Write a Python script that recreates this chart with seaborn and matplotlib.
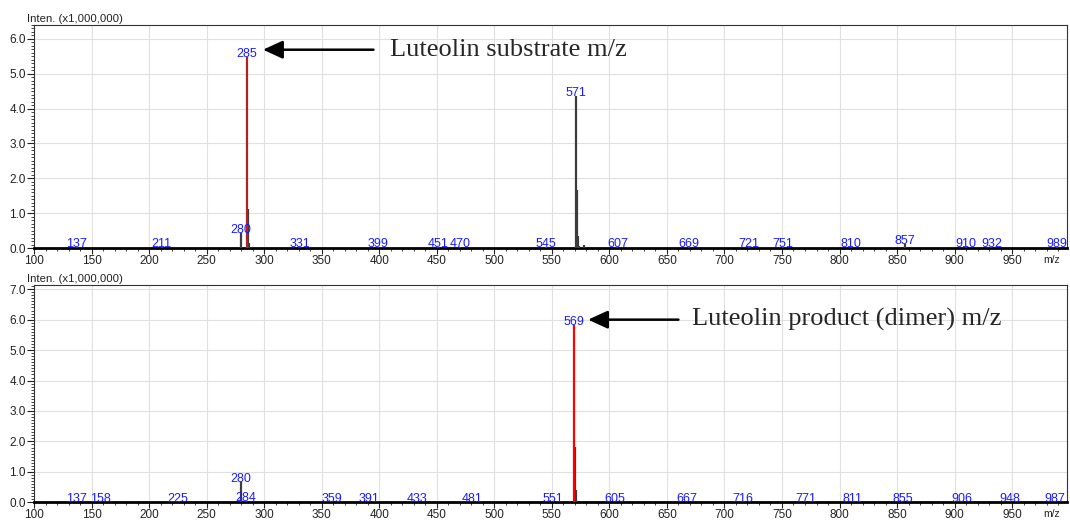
import matplotlib
matplotlib.use("Agg")
import matplotlib.pyplot as plt
from matplotlib.ticker import MultipleLocator, FormatStrFormatter
import seaborn as sns
import pandas as pd

sns.set_style("white")
plt.rcParams['font.family'] = ['Liberation Sans', 'DejaVu Sans']

# ---- top spectrum (substrate) ----
top_mz = [137, 211, 280, 285, 286, 287, 331, 399, 451, 470, 545, 571, 572, 573, 574, 578,
          607, 669, 721, 751, 810, 857, 910, 932, 989]
top_int = [0.02, 0.02, 0.43, 5.48, 1.13, 0.15, 0.02, 0.02, 0.02, 0.02, 0.02, 4.35, 1.67, 0.35,
           0.05, 0.10, 0.02, 0.02, 0.02, 0.02, 0.02, 0.12, 0.02, 0.02, 0.02]
top_labels = [137, 211, 280, 285, 331, 399, 451, 470, 545, 571, 607, 669, 721, 751, 810,
              857, 910, 932, 989]
top_highlight = [285]

# ---- bottom spectrum (product) ----
bot_mz = [137, 158, 225, 280, 284, 359, 391, 433, 481, 551, 569, 570, 571, 605, 667, 716,
          771, 811, 855, 906, 948, 987]
bot_int = [0.02, 0.02, 0.02, 0.68, 0.03, 0.02, 0.02, 0.02, 0.02, 0.02, 5.83, 1.83, 0.40,
           0.02, 0.02, 0.02, 0.02, 0.02, 0.02, 0.02, 0.02, 0.02]
bot_labels = [137, 158, 225, 280, 284, 359, 391, 433, 481, 551, 569, 605, 667, 716, 771,
              811, 855, 906, 948, 987]
bot_highlight = [569]

x_ticks = [100, 150, 200, 250, 300, 350, 400, 450, 500, 550, 600, 650, 700, 750, 800,
           850, 900, 950]

fig = plt.figure(figsize=(10.7, 5.2), dpi=100)
ax1 = fig.add_axes([0.0318, 0.523, 0.9652, 0.429])
ax2 = fig.add_axes([0.0318, 0.034, 0.9652, 0.418])


def draw(ax, mz, inten, labels, highlight, hcolor, ymax):
    df = pd.DataFrame({"mz": mz, "inten": inten})
    df["kind"] = ["hi" if m in highlight else "lo" for m in mz]
    ax.set_xlim(100, 997.5)
    ax.set_ylim(0, ymax)
    ax.grid(True, color="#e0e0e0", linewidth=0.8)
    ax.set_axisbelow(True)
    lo = df[df.kind == "lo"]
    hi = df[df.kind == "hi"]
    ax.vlines(lo.mz, 0, lo.inten, color="#3c3c3c", linewidth=1.6, zorder=3)
    ax.vlines(hi.mz, 0, hi.inten, color=hcolor, linewidth=1.6, zorder=4)
    for m in labels:
        v = df.loc[df.mz == m, "inten"].iloc[0]
        ax.text(m, v, str(m), color="#1a1aff", fontsize=9, ha="center", va="baseline",
                zorder=5)
    ax.set_xticks(x_ticks)
    ax.set_xticklabels([str(t) for t in x_ticks])
    ax.xaxis.set_minor_locator(MultipleLocator(10))
    ax.yaxis.set_major_locator(MultipleLocator(1.0))
    ax.yaxis.set_major_formatter(FormatStrFormatter("%.1f"))
    ax.yaxis.set_minor_locator(MultipleLocator(0.1))
    ax.tick_params(axis="both", which="major", direction="out", length=4, width=0.8,
                   labelsize=8.5, pad=1, colors="#222222", bottom=True, left=True)
    ax.tick_params(axis="both", which="minor", direction="out", length=2, width=0.6,
                   colors="#222222", bottom=True, left=True)
    ax.tick_params(axis="y", which="major", length=5)
    for s in ["top", "right", "left"]:
        ax.spines[s].set_visible(True)
        ax.spines[s].set_color("#333333")
        ax.spines[s].set_linewidth(0.8)
    ax.spines["bottom"].set_color("black")
    ax.spines["bottom"].set_linewidth(2.0)
    ax.text(-0.007, 1.003, "Inten. (x1,000,000)", transform=ax.transAxes, fontsize=8.2,
            ha="left", va="bottom", color="#222222")
    ax.text(0.9855, -0.03, "m/z", transform=ax.transAxes, fontsize=7.5,
            ha="center", va="top", color="#222222")


draw(ax1, top_mz, top_int, top_labels, top_highlight, "#b22222", 6.4)
draw(ax2, bot_mz, bot_int, bot_labels, bot_highlight, "#ff0000", 7.14)

ax1.annotate("", xy=(299, 5.69), xytext=(395, 5.69),
             arrowprops=dict(arrowstyle="-|>,head_length=1.2,head_width=0.55", color="black",
                             lw=1.8, shrinkA=0, shrinkB=0))
ax1.text(409, 5.69, "Luteolin substrate m/z", fontsize=19, family="Liberation Serif",
         ha="left", va="center")

ax2.annotate("", xy=(581.5, 6.0), xytext=(660, 6.0),
             arrowprops=dict(arrowstyle="-|>,head_length=1.2,head_width=0.55", color="black",
                             lw=1.8, shrinkA=0, shrinkB=0))
ax2.text(672, 6.0, "Luteolin product (dimer) m/z", fontsize=19, family="Liberation Serif",
         ha="left", va="center")

fig.savefig("out.png", dpi=100)
